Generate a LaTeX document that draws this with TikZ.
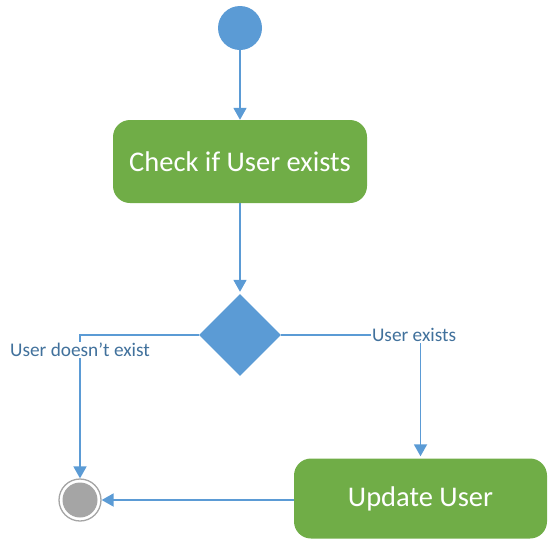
\documentclass[tikz,border=0pt]{standalone}
\usepackage{fontspec}
\setmainfont{Carlito}
\usetikzlibrary{shapes.geometric,arrows.meta}
\definecolor{ublue}{HTML}{5B9BD5}
\definecolor{ugreen}{HTML}{70AD47}
\definecolor{ulabel}{HTML}{41719C}
\definecolor{ugray}{HTML}{A5A5A5}
\tikzset{
  startnode/.style={circle,fill=ublue,minimum size=44pt,inner sep=0pt},
  actbox/.style={rectangle,rounded corners=17pt,fill=ugreen,text=white,font=\fontsize{28.5}{32}\selectfont,inner sep=0pt},
  decnode/.style={diamond,fill=ublue,minimum width=82pt,minimum height=82pt,inner sep=0pt},
  endnode/.style={circle,draw=ugray,line width=1.3pt,fill=white,minimum size=42pt,inner sep=0pt,
    path picture={\fill[ugray] (path picture bounding box.center) circle (17.5pt);}},
  flow/.style={draw=ublue,line width=1.8pt,-{Triangle[width=13pt,length=12pt]}},
  guard/.style={fill=white,text=ulabel,font=\fontsize{19.3}{22}\selectfont,inner sep=1pt}
}
\begin{document}
\begin{tikzpicture}[x=1pt,y=-1pt]
\useasboundingbox (0,0) rectangle (548,539);
\node[startnode] (start) at (240,28) {};
\node[actbox,minimum width=254pt,minimum height=83pt] (check) at (240,161.5) {Check if User exists};
\node[decnode] (dec) at (240,335) {};
\node[actbox,minimum width=253pt,minimum height=80pt] (upd) at (420.5,498.5) {Update User};
\node[endnode] (end) at (80,500) {};
\draw[flow] (start) -- (check);
\draw[flow,shorten >=2pt] (check) -- (dec);
\draw[flow] (dec.west) -| node[guard,pos=0.552] {User doesn’t exist} (end.north);
\draw[flow,shorten >=2pt] (dec.east) -| node[guard,pos=0.477] {User exists} (upd.north);
\draw[flow] (upd.west |- end) -- (end);
\end{tikzpicture}
\end{document}
